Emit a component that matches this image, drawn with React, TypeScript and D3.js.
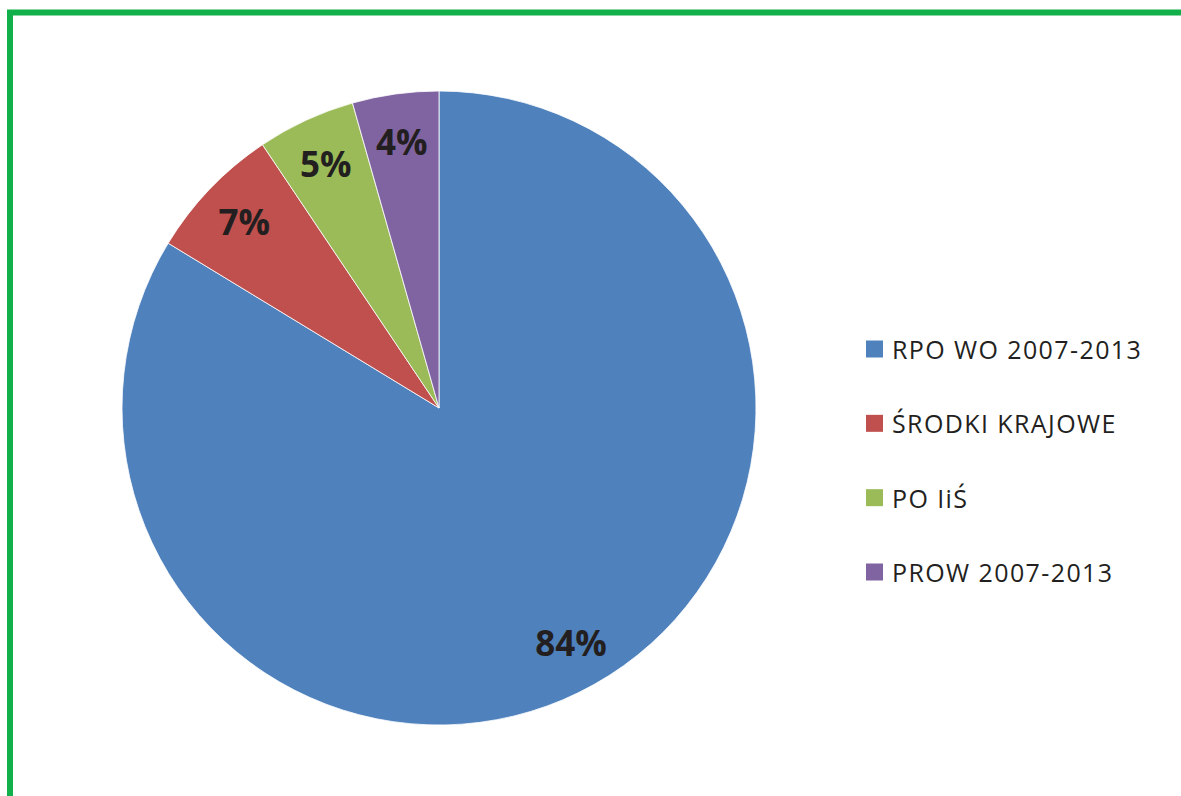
import React from "react";
import * as d3 from "d3";

const categories = ["RPO WO 2007-2013", "ŚRODKI KRAJOWE", "PO IiŚ", "PROW 2007-2013"];
const values = [83.7, 6.9, 5.0, 4.4];
const labels = ["84%", "7%", "5%", "4%"];
const colors = ["#4f81bd", "#c0504d", "#9bbb59", "#8064a2"];

const W = 1181;
const H = 796;
const cx = 439;
const cy = 408;
const R = 317;

const App = () => {
  const pie = d3.pie<number>().sort(null).value((d) => d);
  const arcs = pie(values);
  const arc = d3.arc<d3.PieArcDatum<number>>().innerRadius(0).outerRadius(R);
  const labelArc = d3
    .arc<d3.PieArcDatum<number>>()
    .innerRadius(R * 0.85)
    .outerRadius(R * 0.85);

  const legendY = d3.scalePoint<string>().domain(categories).range([349, 572]);

  return (
    <svg
      width={W}
      height={H}
      style={{ position: "absolute", left: 0, top: 0, background: "#fff" }}
    >
      {/* green frame, only top and left edges visible */}
      <path d="M10,800 L10,12.5 L1190,12.5" fill="none" stroke="#12b04b" strokeWidth={6} />

      <g transform={`translate(${cx},${cy})`}>
        {arcs.map((a, i) => (
          <path key={i} d={arc(a) || ""} fill={colors[i]} stroke="#fff" strokeWidth={0.8} />
        ))}
        {arcs.map((a, i) => {
          const [x, y] = labelArc.centroid(a);
          return (
            <text
              key={"l" + i}
              x={x}
              y={y}
              textAnchor="middle"
              dominantBaseline="central"
              fontFamily="'Open Sans', 'DejaVu Sans', sans-serif"
              fontWeight="bold"
              fontSize={35}
              fill="#231f20"
            >
              {labels[i]}
            </text>
          );
        })}
      </g>

      <g
        fontFamily="'Open Sans', 'DejaVu Sans', sans-serif"
        fontSize={25}
        letterSpacing={1.4}
        fill="#231f20"
      >
        {categories.map((c, i) => {
          const y = legendY(c) || 0;
          return (
            <g key={c}>
              <rect x={866} y={y - 8.5} width={17} height={17} fill={colors[i]} />
              <text x={892} y={y} dominantBaseline="central">
                {c}
              </text>
            </g>
          );
        })}
      </g>
    </svg>
  );
};

export default App;
